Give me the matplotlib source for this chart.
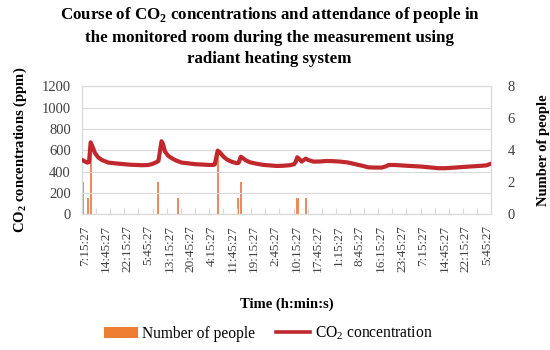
import matplotlib
matplotlib.use("Agg")
import matplotlib.pyplot as plt
from matplotlib.patches import Patch
from matplotlib.lines import Line2D

plt.rcParams["font.family"] = ["Liberation Serif", "DejaVu Serif"]
plt.rcParams["mathtext.fontset"] = "custom"
plt.rcParams["mathtext.rm"] = "Liberation Serif"
plt.rcParams["mathtext.bf"] = "Liberation Serif:bold"

# hours relative to the first label (7:15:27)
co2_hours = [-1.0, -0.3, 0.9, 1.5, 2.1, 2.5, 3.6, 4.7, 6.0, 8.3, 10.7, 13.1, 16.0, 20.2, 22.4,
             23.7, 25.5, 26.1, 27.2, 27.7, 28.4, 29.5, 30.8, 32.3, 34.3, 36.6, 39.1, 43.8, 45.6,
             46.1, 47.1, 47.9, 49.0, 50.3, 51.8, 53.8, 54.5, 55.3, 56.1, 57.1, 58.6, 60.7, 63.3,
             68.0, 70.3, 72.7, 74.2, 74.7, 75.3, 76.3, 76.9, 77.4, 78.3, 79.1, 81.0, 83.4, 85.7,
             88.0, 90.5, 93.4, 95.8, 98.2, 100.5, 102.9, 105.2, 106.8, 107.6, 110.0, 113.5, 119.4,
             125.3, 127.7, 131.2, 134.8, 139.5, 142.2, 144.0]
co2_ppm = [510, 500, 485, 490, 675, 650, 575, 535, 510, 485, 478, 472, 465, 460, 462,
           470, 490, 500, 685, 660, 590, 550, 526, 505, 485, 478, 470, 463, 463,
           470, 597, 580, 545, 515, 495, 479, 482, 540, 525, 505, 487, 475, 463,
           453, 455, 460, 470, 490, 535, 510, 494, 505, 522, 510, 494, 495, 500,
           498, 494, 485, 470, 456, 440, 438, 438, 450, 462, 462, 456, 447,
           432, 432, 438, 445, 453, 458, 475]

people_hours = [-0.5, 1.2, 2.1, 26.0, 33.0, 47.1, 54.1, 54.5, 55.3, 75.1, 75.7, 78.3]
people_count = [2, 1, 4.5, 2, 1, 4, 1, 1, 2, 1, 1, 1]

time_labels = ["7:15:27", "14:45:27", "22:15:27", "5:45:27", "13:15:27", "20:45:27", "4:15:27",
               "11:45:27", "19:15:27", "2:45:27", "10:15:27", "17:45:27", "1:15:27", "8:45:27",
               "16:15:27", "23:45:27", "7:15:27", "14:45:27", "22:15:27", "5:45:27"]

co2_color = "#C0282E"
people_color = "#ED7D31"
grid_color = "#D9D9D9"

fig = plt.figure(figsize=(5.5, 3.5), dpi=100)
ax = fig.add_axes([0.149, 0.388, 0.744, 0.365])
ax2 = ax.twinx()

ax2.bar(people_hours, people_count, width=0.6, color="#EE8A5E", zorder=2)
ax.plot(co2_hours, co2_ppm, color=co2_color, lw=3.0, solid_capstyle="round", zorder=3)

# CO2 line on top of the bars
ax.set_zorder(ax2.get_zorder() + 1)
ax.patch.set_visible(False)

ax.set_xlim(-1.0, 144.0)
ax.set_ylim(0, 1200)
ax.set_yticks(range(0, 1201, 200))
ax2.set_ylim(0, 8)
ax2.set_yticks(range(0, 9, 2))
ax.grid(axis="y", color=grid_color, lw=0.8)
ax.set_axisbelow(True)

label_pos = [7.5 * i for i in range(len(time_labels))]
ax.set_xticks(label_pos)
ax.set_xticklabels(time_labels, rotation=90, fontsize=9.5)
ax.set_xticks([-1.0 + 5 * i for i in range(30)], minor=True)
ax.tick_params(axis="x", which="major", length=0, pad=8)
ax.tick_params(axis="x", which="minor", direction="in", length=4, color=grid_color, width=0.8)
ax.tick_params(axis="y", length=0, labelsize=10.5, pad=8)
ax2.tick_params(axis="y", length=0, labelsize=10.5, pad=12, colors="#404040")
ax.tick_params(axis="y", colors="#404040")
ax.tick_params(axis="x", colors="#404040")
for a in (ax, ax2):
    for s in a.spines.values():
        s.set_color(grid_color)
        s.set_linewidth(0.8)

ax.set_ylabel(r"CO$_{\mathbf{2}}$ concentrations (ppm)", fontsize=10.5, fontweight="bold", labelpad=9)
ax2.set_ylabel("Number of people", fontsize=10.5, fontweight="bold", labelpad=16)
ax.set_xlabel("Time (h:min:s)", fontsize=10.5, fontweight="bold", labelpad=18)

fig.suptitle("Course of CO$_{\\mathbf{2}}$ concentrations and attendance of people in\n"
             "the monitored room during the measurement using\nradiant heating system",
             x=0.49, y=0.985, fontsize=12.2, fontweight="bold", linespacing=1.4)

handles = [Patch(facecolor=people_color, edgecolor="none"),
           Line2D([], [], color=co2_color, lw=2.6)]
fig.legend(handles, ["Number of people", "CO$_2$ concentration"], loc="center",
           bbox_to_anchor=(0.487, 0.047), ncol=2, frameon=False, fontsize=11.2,
           handlelength=2.2, handleheight=0.7, columnspacing=1.3, handletextpad=0.3)

fig.savefig("out.png", dpi=100)
